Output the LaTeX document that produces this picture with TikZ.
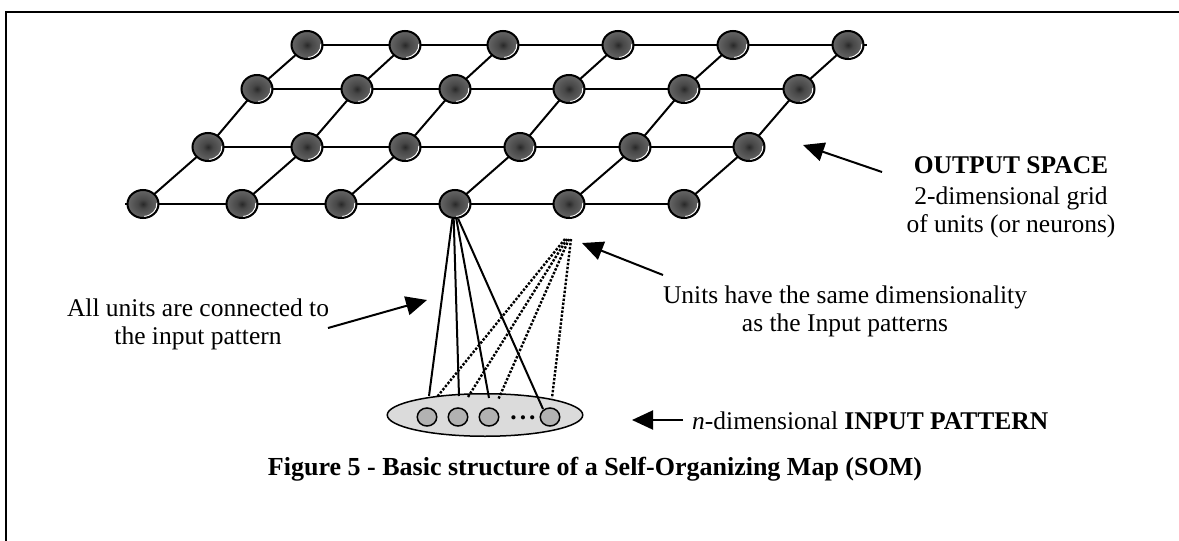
\documentclass[tikz,border=0pt]{standalone}
\usepackage{fontspec}
\setmainfont{Liberation Serif}
\usetikzlibrary{shapes.geometric,arrows.meta,backgrounds}

% dark ball shading for the map units
\pgfdeclareradialshading{unitball}{\pgfpoint{0bp}{0bp}}{%
  color(0bp)=(black!84); color(8bp)=(black!72); color(25bp)=(black!60); color(50bp)=(black!52)}

\tikzset{
  unit/.style={ellipse, draw, line width=2pt, minimum width=31pt, minimum height=28pt,
    inner sep=0pt, shading=unitball,
    path picture={\draw[white, line width=1.2pt]
      (path picture bounding box.center) ++(-85:14pt and 12.6pt)
      arc[start angle=-85, end angle=5, x radius=14pt, y radius=12.6pt];}},
  gridline/.style={line width=2pt},
  wire/.style={line width=2pt},
  dotwire/.style={line width=2.4pt, dash pattern=on 2.4pt off 1.6pt},
  arr/.style={line width=2pt, -{Triangle[length=21pt, width=19pt]}},
  inunit/.style={ellipse, draw, line width=1.5pt, fill=black!30, minimum width=19.5pt,
    minimum height=18pt, inner sep=0pt},
  label/.style={font=\fontsize{25.5pt}{28pt}\selectfont, align=center, inner sep=0pt},
}

\begin{document}
\begin{tikzpicture}[x=1pt, y=-1pt]
\useasboundingbox (0,0) rectangle (1179,541);

% frame
\draw[line width=2.3pt] (6,541) -- (6,12) -- (1179,12);

% output grid of units
\foreach \x [count=\c from 0] in {307,405,503,618,733,848} \node[unit] (u0\c) at (\x,45) {};
\foreach \x [count=\c from 0] in {257,357,455,569,684,799} \node[unit] (u1\c) at (\x,89) {};
\foreach \x [count=\c from 0] in {208,307,405,520,635,749} \node[unit] (u2\c) at (\x,147) {};
\foreach \x [count=\c from 0] in {143,242,341,455,569,684} \node[unit] (u3\c) at (\x,204) {};

\coordinate (r0end) at (867,45);
\coordinate (r3start) at (125,204);

\begin{scope}[on background layer]
  \draw[gridline] (u00.center) -- (u05.center) -- (r0end);
  \draw[gridline] (u10.center) -- (u15.center);
  \draw[gridline] (u20.center) -- (u25.center);
  \draw[gridline] (r3start) -- (u30.center) -- (u35.center);
  \foreach \c in {0,...,5}
    \draw[gridline] (u3\c.center) -- (u2\c.center) -- (u1\c.center) -- (u0\c.center);
\end{scope}

% input pattern
\node[ellipse, draw, line width=1.5pt, fill=black!14, minimum width=195.5pt,
  minimum height=42.5pt, inner sep=0pt] (inp) at (485,415) {};
\node[inunit] (c1) at (427,417) {};
\node[inunit] (c2) at (458,417) {};
\node[inunit] (c3) at (489,417) {};
\node[inunit] (c4) at (550,417) {};
\node[font=\fontsize{25.5pt}{28pt}\selectfont\bfseries, inner sep=0pt] (dots) at (523,418) {.\kern3pt.\kern3pt.};

% connections from one unit to the input pattern
\coordinate (s1) at (429,396);
\coordinate (s2) at (459,396);
\coordinate (s3) at (489,398);
\coordinate (s4) at (543,409);
\draw[wire] (u33.-100) -- (s1);
\draw[wire] (u33.-95) -- (s2);
\draw[wire] (u33.-85) -- (s3);
\draw[wire] (u33.-78) -- (s4);

% weight vector of a unit (dotted)
\coordinate (apex) at (568,239);
\coordinate (d1) at (437,397);
\coordinate (d2) at (468,397);
\coordinate (d3) at (498,400);
\coordinate (d4) at (552,398);
\draw[dotwire] ([xshift=-3pt]apex) -- (d1);
\draw[dotwire] ([xshift=-1pt]apex) -- (d2);
\draw[dotwire] ([xshift=1pt]apex) -- (d3);
\draw[dotwire] ([xshift=3pt]apex) -- (d4);

% labels
\node[label] (outtxt) at (1011,197) {\textbf{OUTPUT SPACE}\\[3pt]2-dimensional grid\\of units (or neurons)};
\node[label] (unitstxt) at (845,311) {Units have the same dimensionality\\as the Input patterns};
\node[label] (alltxt) at (198,324) {All units are connected to\\the input pattern};
\node[label, anchor=west] (inptxt) at (692,421) {\textit{n}-dimensional \textbf{INPUT PATTERN}};
\node[label, font=\fontsize{26pt}{30pt}\selectfont\bfseries] (caption) at (595,469)
  {Figure 5 - Basic structure of a Self-Organizing Map (SOM)};

% pointer arrows
\coordinate (t1) at (882,172);  \coordinate (h1) at (803,145);
\coordinate (t2) at (663,275);  \coordinate (h2) at (582,243);
\coordinate (t3) at (328,328);  \coordinate (h3) at (427,300);
\coordinate (t4) at (683,420);  \coordinate (h4) at (632,420);
\draw[arr] (t1) -- (h1);
\draw[arr] (t2) -- (h2);
\draw[arr] (t3) -- (h3);
\draw[arr] (t4) -- (h4);
\end{tikzpicture}
\end{document}
